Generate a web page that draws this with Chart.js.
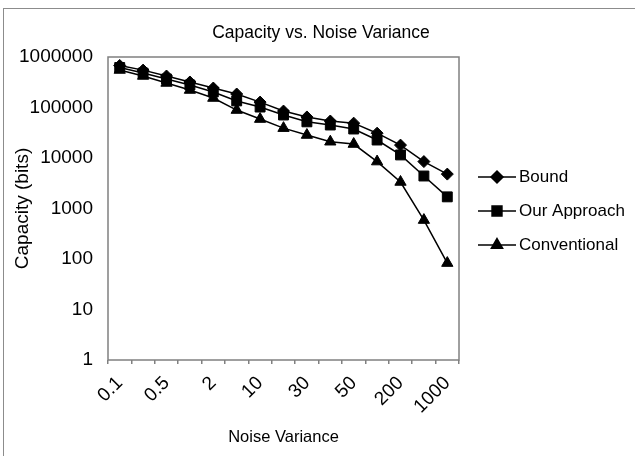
<!DOCTYPE html>
<html>
<head>
<meta charset="utf-8">
<script src="https://cdn.jsdelivr.net/npm/chart.js@4.4.1/dist/chart.umd.min.js"></script>
<style>
  html, body { margin: 0; padding: 0; background: #fff; overflow: hidden; }
  #wrap { position: relative; width: 635px; height: 456px; }
  #frame { position: absolute; left: 3px; top: 8px; width: 700px; height: 600px;
           border: 1.5px solid #8c8c8c; box-sizing: border-box; }
  canvas { position: absolute; left: 0; top: 0; }
</style>
</head>
<body>
<div id="wrap">
  <div id="frame"></div>
  <canvas id="chart" width="635" height="456"></canvas>
</div>
<script>
// data
const categories   = ['0.1', '0.2', '0.5', '1', '2', '5', '10', '20', '30', '40', '50', '100', '200', '500', '1000'];
const bound        = [680000, 550000, 420000, 320000, 243000, 185000, 128000, 85000, 65000, 54000, 49000, 31000, 18000, 8500, 4800];
const ourApproach  = [620000, 480000, 366000, 279000, 203000, 135000, 102000, 71000, 52000, 45000, 37500, 22700, 11500, 4400, 1700];
const conventional = [553000, 421000, 306000, 222000, 154000, 89000, 59000, 39000, 28500, 21000, 18900, 8500, 3350, 590, 83];
const yTicks       = [1, 10, 100, 1000, 10000, 100000, 1000000];

const chartTitle   = 'Capacity vs. Noise Variance';
const seriesNames  = ['Bound', 'Our Approach', 'Conventional'];
const seriesData   = [bound, ourApproach, conventional];
const markers      = ['rectRot', 'rect', 'triangle'];
const markerSizes  = [6, 7, 6.5];

const FONT = '"Liberation Sans", Arial, sans-serif';
const GREY = '#808080';

// box round the plot area
const plotBox = {
  id: 'plotBox',
  beforeDatasetsDraw(chart) {
    const { ctx, chartArea: a } = chart;
    ctx.save();
    ctx.strokeStyle = GREY;
    ctx.lineWidth = 1.5;
    ctx.strokeRect(a.left, a.top, a.right - a.left, a.bottom - a.top);
    ctx.restore();
  }
};

// title centred on the whole chart, like Excel does
const wideTitle = {
  id: 'wideTitle',
  afterDraw(chart) {
    const ctx = chart.ctx;
    ctx.save();
    ctx.fillStyle = '#000';
    ctx.font = '17.5px ' + FONT;
    ctx.textAlign = 'center';
    ctx.textBaseline = 'middle';
    ctx.fillText(chartTitle, 321, 33);
    ctx.restore();
  }
};

// Excel-like legend: line with marker, text to the right
const sideLegend = {
  id: 'sideLegend',
  afterDraw(chart) {
    const ctx = chart.ctx;
    chart.data.datasets.forEach((ds, i) => {
      const y = 177 + i * 34;
      ctx.save();
      ctx.strokeStyle = '#000';
      ctx.fillStyle = '#000';
      ctx.lineWidth = 1.5;
      ctx.beginPath();
      ctx.moveTo(478, y);
      ctx.lineTo(516, y);
      ctx.stroke();
      Chart.helpers.drawPoint(ctx, { pointStyle: ds.pointStyle, radius: ds.pointRadius, borderWidth: 1 }, 497, y);
      ctx.font = '17px ' + FONT;
      ctx.textBaseline = 'middle';
      ctx.textAlign = 'left';
      ctx.fillText(ds.label, 519, y);
      ctx.restore();
    });
  }
};

const datasets = seriesNames.map((name, i) => ({
  label: name,
  data: seriesData[i],
  borderColor: '#000',
  backgroundColor: '#000',
  borderWidth: 1.5,
  pointStyle: markers[i],
  pointRadius: markerSizes[i],
  pointBorderWidth: 1,
  tension: 0
}));

new Chart(document.getElementById('chart'), {
  type: 'line',
  data: { labels: categories, datasets },
  options: {
    responsive: false,
    animation: false,
    devicePixelRatio: 1,
    layout: { padding: { left: 8, right: 176, top: 57, bottom: 0 } },
    plugins: {
      legend: { display: false },
      tooltip: { enabled: false },
      title: { display: false }
    },
    scales: {
      x: {
        type: 'category',
        offset: true,
        border: { display: false },
        grid: { display: true, drawOnChartArea: false, offset: true, tickLength: 4, color: GREY, lineWidth: 1.5 },
        ticks: {
          autoSkip: false, maxRotation: 45, minRotation: 45, padding: 8,
          color: '#000', font: { family: FONT, size: 19 },
          callback: (v, i) => (i % 2 === 0 ? categories[i] : '')
        },
        title: {
          display: true, text: 'Noise Variance', color: '#000',
          font: { family: FONT, size: 16.5 }, padding: { top: 0, bottom: 9 }
        },
        afterFit(s) { s.height = 96; }
      },
      y: {
        type: 'logarithmic',
        min: 1,
        max: 1000000,
        border: { display: false },
        grid: { display: false, drawTicks: false },
        afterBuildTicks(s) { s.ticks = yTicks.map(v => ({ value: v })); },
        ticks: {
          padding: 15, color: '#000', font: { family: FONT, size: 19 },
          callback: v => String(v)
        },
        title: {
          display: true, text: 'Capacity (bits)', color: '#000',
          font: { family: FONT, size: 19 }, padding: { top: 3, bottom: 0 }
        },
        afterFit(s) { s.width = 100; }
      }
    }
  },
  plugins: [plotBox, wideTitle, sideLegend]
});
</script>
</body>
</html>
